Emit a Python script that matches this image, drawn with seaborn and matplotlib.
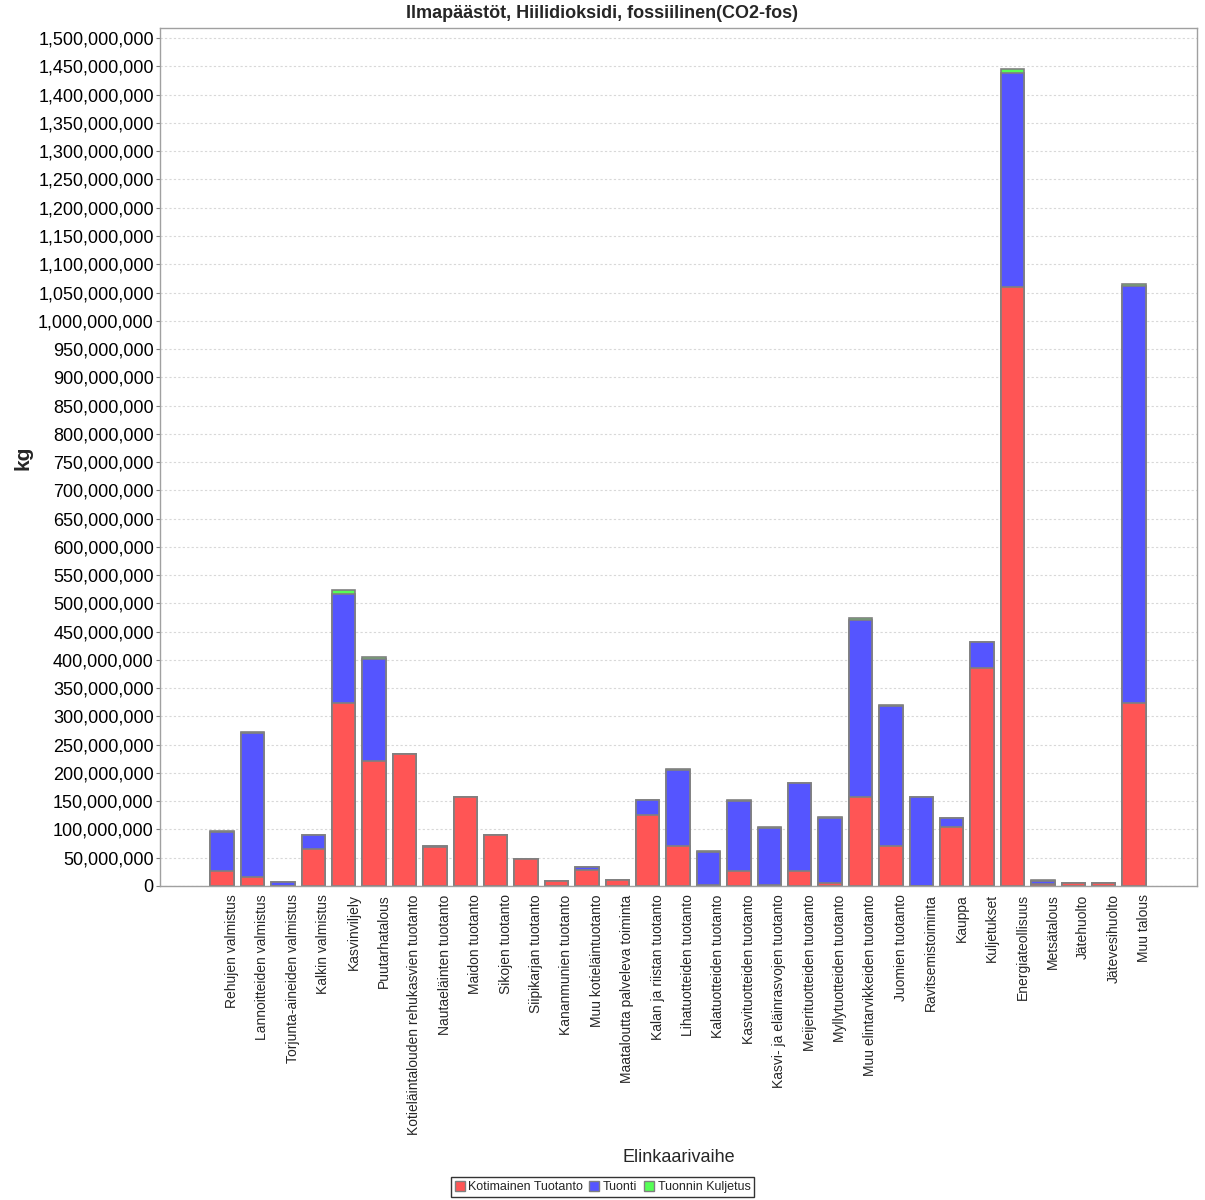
import numpy as np
import pandas as pd
import matplotlib
matplotlib.use("Agg")
import matplotlib.pyplot as plt
import matplotlib.transforms as mtrans
import seaborn as sns
from matplotlib.patches import Patch
from matplotlib.ticker import FuncFormatter, MultipleLocator

categories = [
    "Rehujen valmistus", "Lannoitteiden valmistus", "Torjunta-aineiden valmistus",
    "Kalkin valmistus", "Kasvinviljely", "Puutarhatalous",
    "Kotieläintalouden rehukasvien tuotanto", "Nautaeläinten tuotanto",
    "Maidon tuotanto", "Sikojen tuotanto", "Siipikarjan tuotanto",
    "Kananmunien tuotanto", "Muu kotieläintuotanto",
    "Maataloutta palveleva toiminta", "Kalan ja riistan tuotanto",
    "Lihatuotteiden tuotanto", "Kalatuotteiden tuotanto",
    "Kasvituotteiden tuotanto", "Kasvi- ja eläinrasvojen tuotanto",
    "Meijerituotteiden tuotanto", "Myllytuotteiden tuotanto",
    "Muu elintarvikkeiden tuotanto", "Juomien tuotanto", "Ravitsemistoiminta",
    "Kauppa", "Kuljetukset", "Energiateollisuus", "Metsätalous", "Jätehuolto",
    "Jätevesihuolto", "Muu talous",
]

# million kg
kotimainen = [26, 16, 0.5, 65, 323, 222, 233, 69, 157, 89.6, 47, 8, 29, 10, 126,
              70, 1, 27, 1, 26, 6, 157, 70, 0.5, 105, 385, 1060, 3, 4.7, 4.7, 323]
tuonti = [70, 255, 6, 25, 193, 180, 0, 2, 0, 0, 1, 0, 4, 0, 26,
          136, 60, 124, 102, 156, 115, 314, 249, 157, 15, 46, 378, 5, 0, 0, 739]
kuljetus = [0.5, 1, 0.3, 0.5, 7, 2.5, 0.5, 0.5, 0.3, 0.3, 0.5, 0.2, 0.3, 0.2, 0.5,
            1, 0.3, 2, 2, 0.5, 0.5, 2.5, 2, 0.5, 0.3, 0.5, 7, 2, 0.1, 0.1, 3]

series = ["Kotimainen Tuotanto", "Tuonti", "Tuonnin Kuljetus"]
colors = ["#FF5555", "#5555FF", "#55FF55"]

df = pd.DataFrame({
    "cat": categories,
    "k": np.array(kotimainen) * 1e6,
    "t": np.array(tuonti) * 1e6,
    "l": np.array(kuljetus) * 1e6,
})
df["kt"] = df["k"] + df["t"]
df["ktl"] = df["kt"] + df["l"]

sns.set_style("white")
plt.rcParams["font.family"] = ["Liberation Sans", "DejaVu Sans"]

fig = plt.figure(figsize=(12.05, 12), dpi=100)
ax = fig.add_axes([160 / 1205, 1 - 886 / 1200, 1037 / 1205, 858 / 1200])

# stacked bars: draw cumulative totals, biggest first
for col, c in zip(["ktl", "kt", "k"], colors[::-1]):
    sns.barplot(data=df, x="cat", y=col, order=categories, color=c,
                width=0.77, edgecolor="#808080", linewidth=1.2,
                saturation=1, ax=ax)

ax.set_xlim(-2.04, 32.07)
ax.set_ylim(0, 1.518e9)
ax.yaxis.set_major_locator(MultipleLocator(5e7))
ax.yaxis.set_major_formatter(FuncFormatter(lambda v, p: f"{v:,.0f}"))
ax.grid(axis="y", color="#d8d8d8", linestyle=(0, (2, 2)), linewidth=0.8)
ax.set_axisbelow(True)
for s in ax.spines.values():
    s.set_color("#a0a0a0")
    s.set_linewidth(1)

ax.tick_params(axis="y", labelsize=13, length=3, color="#808080", pad=1.5,
               left=True, labelcolor="black")
ax.tick_params(axis="x", labelsize=10, length=0, pad=6)
ax.set_xticks(range(len(categories)))
ax.set_xticklabels(categories, rotation=90)
shift = mtrans.ScaledTranslation(10 / 100, 0, fig.dpi_scale_trans)
for lab in ax.get_xticklabels():
    lab.set_transform(lab.get_transform() + shift)
for lab in ax.get_yticklabels():
    lab.set_fontweight("medium")

ax.set_xlabel("Elinkaarivaihe", fontsize=13, labelpad=10)
ax.set_ylabel("kg", fontsize=15, fontweight="bold")
ax.yaxis.set_label_coords((33 - 160) / 1037, (886 - 458) / 858)
fig.text(0.5, 1 - 14 / 1200, "Ilmapäästöt, Hiilidioksidi, fossiilinen(CO2-fos)",
         fontsize=13, fontweight="bold", ha="center", va="center")

handles = [Patch(facecolor=c, edgecolor="#808080") for c in colors]
leg = fig.legend(handles, series, loc="center", bbox_to_anchor=(0.5, 1 - 1187 / 1200),
                 ncol=3, fontsize=9, frameon=True, fancybox=False,
                 handlelength=0.8, handleheight=0.8, handletextpad=0.3,
                 columnspacing=0.5, borderpad=0.3, borderaxespad=0)
leg.get_frame().set_edgecolor("black")
leg.get_frame().set_linewidth(1)

fig.savefig("out.png", dpi=100)
